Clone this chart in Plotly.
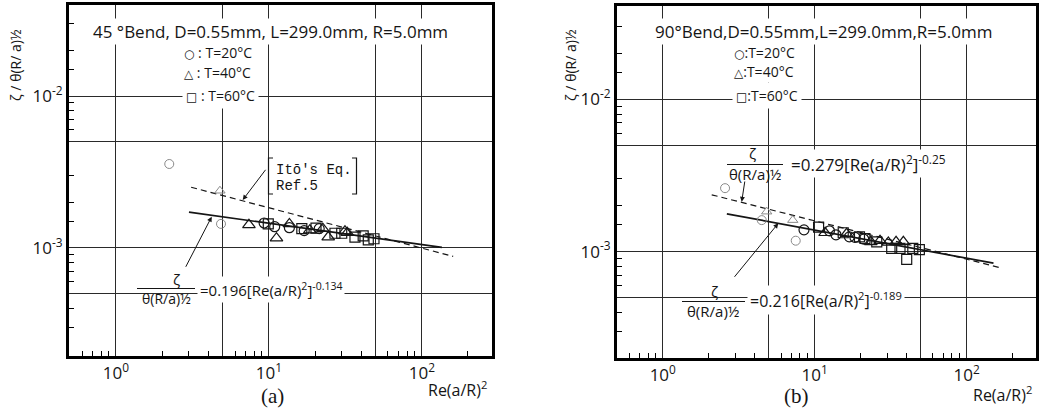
import plotly.graph_objects as go

# ---------------- data ----------------
# Panel (a): 45 deg bend
a_c20_x = [9.3, 10.9, 13.6, 17.0, 21.3]
a_c20_y = [1.46e-3, 1.38e-3, 1.36e-3, 1.30e-3, 1.34e-3]
a_c20_dash_x = [2.23, 4.86]
a_c20_dash_y = [3.57e-3, 1.44e-3]
a_t40_x = [7.4, 11.2, 13.6, 18.5, 22.5, 24.4, 31.4, 32.5]
a_t40_y = [1.42e-3, 1.16e-3, 1.44e-3, 1.31e-3, 1.34e-3, 1.18e-3, 1.29e-3, 1.26e-3]
a_t40_dash_x = [4.78]
a_t40_dash_y = [2.38e-3]
a_s60_x = [9.9, 16.4, 20.3, 27.0, 29.9, 36.5, 41.3, 44.6, 48.6]
a_s60_y = [1.44e-3, 1.34e-3, 1.35e-3, 1.25e-3, 1.25e-3, 1.18e-3, 1.20e-3, 1.13e-3, 1.15e-3]
a_fit_x = [3.0, 135.0]
a_fit_y = [1.72e-3, 1.01e-3]
a_ito_x = [3.1, 160.0]
a_ito_y = [2.51e-3, 8.8e-4]

# Panel (b): 90 deg bend
b_c20_x = [8.5, 12.5, 13.8, 16.9, 18.4, 21.0]
b_c20_y = [1.39e-3, 1.37e-3, 1.29e-3, 1.25e-3, 1.24e-3, 1.21e-3]
b_c20_dash_x = [2.57, 4.48, 7.5]
b_c20_dash_y = [2.61e-3, 1.61e-3, 1.18e-3]
b_t40_x = [11.7, 16.2, 23.4, 26.9, 30.5, 34.3, 38.3]
b_t40_y = [1.33e-3, 1.31e-3, 1.16e-3, 1.18e-3, 1.15e-3, 1.16e-3, 1.16e-3]
b_t40_dash_x = [4.83, 7.17]
b_t40_dash_y = [1.83e-3, 1.61e-3]
b_s60_x = [10.6, 15.4, 19.7, 21.4, 25.6, 32.1, 36.4, 40.3, 44.2, 48.8]
b_s60_y = [1.45e-3, 1.33e-3, 1.25e-3, 1.22e-3, 1.16e-3, 1.05e-3, 1.05e-3, 8.9e-4, 1.05e-3, 1.03e-3]
b_fit_x = [2.64, 150.0]
b_fit_y = [1.77e-3, 8.4e-4]
b_ito_x = [2.1, 170.0]
b_ito_y = [2.36e-3, 7.8e-4]

# axis ticks
x_grid_vals = [1, 5, 10, 50, 100]
x_grid_text = ['10<sup>0</sup>', '', '10<sup>1</sup>', '', '10<sup>2</sup>']
y_grid_vals = [5e-4, 1e-3, 5e-3, 1e-2]
y_grid_text = ['', '10<sup>-3</sup>', '', '10<sup>-2</sup>']
x_minor_vals = [0.6, 0.7, 0.8, 0.9, 2, 3, 4, 6, 7, 8, 9, 20, 30, 40, 60, 70, 80, 90, 200]
y_minor_vals = [3e-4, 4e-4, 6e-4, 7e-4, 8e-4, 9e-4, 1.5e-3, 2e-3, 3e-3,
                6e-3, 7e-3, 8e-3, 9e-3, 1.5e-2, 2e-2, 3e-2]

# ---------------- figure ----------------
W, H = 1042, 411
INK = '#151515'
SANS = 'Open Sans, DejaVu Sans, sans-serif'
CLEAR = 'rgba(0,0,0,0)'


def PX(x):
    return x / W


def PY(y):
    return 1 - y / H


fig = go.Figure()


def add_panel(xa, ya, c_x, c_y, cd_x, cd_y, t_x, t_y, td_x, td_y, s_x, s_y,
              f_x, f_y, i_x, i_y):
    common = dict(xaxis=xa, yaxis=ya, showlegend=False, hoverinfo='skip')
    fig.add_trace(go.Scatter(x=i_x, y=i_y, mode='lines',
                             line=dict(color=INK, width=1.2, dash='6px,4px'), **common))
    fig.add_trace(go.Scatter(x=f_x, y=f_y, mode='lines',
                             line=dict(color=INK, width=1.7), **common))
    mk = dict(size=10, color=INK, line=dict(width=1.2, color=INK))
    mkd = dict(size=9, color='#8a8a8a', line=dict(width=1, color='#8a8a8a'))
    fig.add_trace(go.Scatter(x=cd_x, y=cd_y, mode='markers',
                             marker=dict(symbol='circle-open', **mkd), **common))
    fig.add_trace(go.Scatter(x=td_x, y=td_y, mode='markers',
                             marker=dict(symbol='triangle-up-open', **mkd), **common))
    fig.add_trace(go.Scatter(x=c_x, y=c_y, mode='markers',
                             marker=dict(symbol='circle-open', **mk), **common))
    fig.add_trace(go.Scatter(x=t_x, y=t_y, mode='markers',
                             marker=dict(symbol='triangle-up-open', size=11, color=INK,
                                         line=dict(width=1.2, color=INK)), **common))
    fig.add_trace(go.Scatter(x=s_x, y=s_y, mode='markers',
                             marker=dict(symbol='square-open', **mk), **common))


add_panel('x', 'y', a_c20_x, a_c20_y, a_c20_dash_x, a_c20_dash_y, a_t40_x, a_t40_y,
          a_t40_dash_x, a_t40_dash_y, a_s60_x, a_s60_y, a_fit_x, a_fit_y, a_ito_x, a_ito_y)
add_panel('x2', 'y2', b_c20_x, b_c20_y, b_c20_dash_x, b_c20_dash_y, b_t40_x, b_t40_y,
          b_t40_dash_x, b_t40_dash_y, b_s60_x, b_s60_y, b_fit_x, b_fit_y, b_ito_x, b_ito_y)


def xaxis(domain, rng, anchor):
    return dict(type='log', domain=domain, range=rng, anchor=anchor,
                tickmode='array', tickvals=x_grid_vals, ticktext=x_grid_text,
                ticks='', showgrid=True, gridcolor='#2a2a2a', gridwidth=1,
                showline=True, linecolor='black', linewidth=3, mirror=True,
                zeroline=False, tickfont=dict(family=SANS, size=17, color=INK),
                minor=dict(tickmode='array', tickvals=x_minor_vals, ticks='inside',
                           ticklen=5, tickwidth=1, tickcolor='black', showgrid=False))


def yaxis(domain, rng, anchor):
    return dict(type='log', domain=domain, range=rng, anchor=anchor,
                tickmode='array', tickvals=y_grid_vals, ticktext=y_grid_text,
                ticks='', showgrid=True, gridcolor='#2a2a2a', gridwidth=1,
                showline=True, linecolor='black', linewidth=3, mirror=True,
                zeroline=False, tickfont=dict(family=SANS, size=17, color=INK),
                minor=dict(tickmode='array', tickvals=y_minor_vals, ticks='inside',
                           ticklen=5, tickwidth=1, tickcolor='black', showgrid=False))


fig.update_layout(
    width=W, height=H, margin=dict(l=0, r=0, t=0, b=0),
    paper_bgcolor='white', plot_bgcolor='white',
    xaxis=xaxis([PX(69), PX(492)], [-0.307, 2.458], 'y'),
    yaxis=yaxis([PY(356), PY(5)], [-3.711, -1.401], 'x'),
    xaxis2=xaxis([PX(617), PX(1036)], [-0.301, 2.456], 'y2'),
    yaxis2=yaxis([PY(357.7), PY(6)], [-3.696, -1.388], 'x2'),
)

ann = []
shapes = []


def text(x, y, s, size=15, xanchor='center', family=SANS, bg='white', angle=0, pad=1):
    ann.append(dict(x=PX(x), y=PY(y), xref='paper', yref='paper', text=s,
                    showarrow=False, xanchor=xanchor, yanchor='middle',
                    font=dict(family=family, size=size, color=INK),
                    bgcolor=bg, borderpad=pad, textangle=angle))


def arrow(hx, hy, tx, ty):
    ann.append(dict(x=PX(hx), y=PY(hy), xref='paper', yref='paper', text='',
                    showarrow=True, ax=tx - hx, ay=ty - hy, axref='pixel', ayref='pixel',
                    arrowhead=2, arrowsize=1, arrowwidth=1, arrowcolor=INK))


def hline(x0, x1, y):
    shapes.append(dict(type='line', xref='paper', yref='paper', x0=PX(x0), x1=PX(x1),
                       y0=PY(y), y1=PY(y), line=dict(color=INK, width=1.2)))


def bracket(x_edge, x_tip, y0, y1):
    shapes.append(dict(type='path', xref='paper', yref='paper',
                       path=(f'M {PX(x_tip)},{PY(y0)} L {PX(x_edge)},{PY(y0)} '
                             f'L {PX(x_edge)},{PY(y1)} L {PX(x_tip)},{PY(y1)}'),
                       line=dict(color=INK, width=1.2)))


def sym(ch):
    return f'<span style="font-size:12px">{ch}</span>'


# ----- panel (a) texts -----
text(270, 31, '45 °Bend, D=0.55mm, L=299.0mm, R=5.0mm', size=17)
text(182, 53, sym('○') + ' : T=20°C', size=14, xanchor='left')
text(182, 72, sym('△') + ' : T=40°C', size=14, xanchor='left')
text(182, 95, sym('□') + ' : T=60°C', size=14, xanchor='left', pad=3)
text(15, 65, 'ζ / θ(R/ a)½', size=14, angle=-90, bg=CLEAR)
text(457, 389, 'Re(a/R)<sup>2</sup>', size=16, bg=CLEAR)
text(272, 396, '(a)', size=21, family='Liberation Serif, serif', bg=CLEAR)
# Ito's bracket label
text(275, 170, 'Itō\'s Eq.', size=14, xanchor='left', family='Liberation Mono, monospace', pad=0)
text(275, 186, 'Ref.5', size=14, xanchor='left', family='Liberation Mono, monospace', pad=0)
bracket(268.5, 273, 158, 194)
bracket(356.5, 352, 158, 194)
arrow(242.7, 200, 266.7, 168.3)
# fit equation (fraction)
text(176, 279, 'ζ', size=15, bg=CLEAR, pad=0)
text(166, 298, 'θ(R/a)½', size=14, bg=CLEAR, pad=0)
text(197, 289, '=0.196[Re(a/R)<sup>2</sup>]<sup>-0.134</sup>', size=15, xanchor='left', pad=2)
hline(137, 195, 288.5)
arrow(211.7, 216.7, 185, 268.3)

# ----- panel (b) texts -----
text(823, 31, '90°Bend,D=0.55mm,L=299.0mm,R=5.0mm', size=17)
text(732, 53, sym('○') + ':T=20°C', size=14, xanchor='left')
text(732, 71, sym('△') + ':T=40°C', size=14, xanchor='left')
text(732, 95, sym('□') + ':T=60°C', size=14, xanchor='left', pad=3)
text(570, 65, 'ζ / θ(R/ a)½', size=14, angle=-90, bg=CLEAR)
text(1002, 394, 'Re(a/R)<sup>2</sup>', size=16, bg=CLEAR)
text(796, 396, '(b)', size=21, family='Liberation Serif, serif', bg=CLEAR)
# upper (Ito) equation
text(752, 153, 'ζ', size=15, bg=CLEAR, pad=0)
text(755, 174, 'θ(R/a)½', size=15, bg=CLEAR, pad=0)
text(789, 163, '=0.279[Re(a/R)<sup>2</sup>]<sup>-0.25</sup>', size=17, xanchor='left', pad=1)
hline(727, 783, 164.5)
arrow(741.7, 201.7, 745, 180)
# lower (fit) equation
text(714, 291, 'ζ', size=15, bg=CLEAR, pad=0)
text(713, 311, 'θ(R/a)½', size=15, bg=CLEAR, pad=0)
text(747, 300, '=0.216[Re(a/R)<sup>2</sup>]<sup>-0.189</sup>', size=16, xanchor='left', pad=2)
hline(682, 745, 301.5)
arrow(778.3, 223.3, 733.3, 278.3)

fig.update_layout(annotations=ann, shapes=shapes)
fig.write_html('out.html')
